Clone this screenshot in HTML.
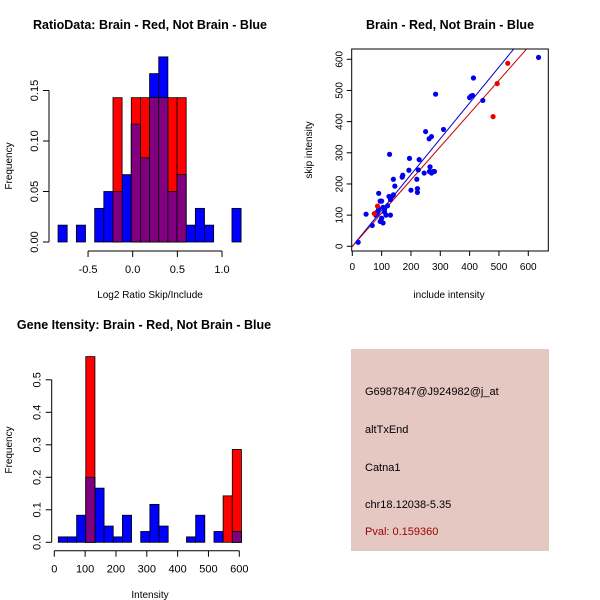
<!DOCTYPE html>
<html><head><meta charset="utf-8"><style>
body{margin:0;background:#fff}
svg{display:block;font-family:"Liberation Sans",sans-serif}
</style></head><body>
<svg id="s" width="600" height="600" xmlns="http://www.w3.org/2000/svg">
<rect width="600" height="600" fill="#fff"/>
<g id="p1"></g>
<g id="p2"></g>
<g id="p3"></g>
<g id="p4">
<rect x="351" y="349" width="198" height="202" fill="#e5c8c2"/>
<text x="365" y="395" font-size="11">G6987847@J924982@j_at</text>
<text x="365" y="433" font-size="11">altTxEnd</text>
<text x="365" y="471" font-size="11">Catna1</text>
<text x="365" y="508" font-size="11">chr18.12038-5.35</text>
<text x="365" y="535" font-size="11" fill="#9b0000">Pval: 0.159360</text>
</g>
</svg>
<script>
// Ratio histogram data
const ratioBreakStart = -0.836, ratioBinWidth = 0.1025;
const ratioBlue = [0.0167,0,0.0167,0,0.0333,0.05,0.05,0.0667,0.1167,0.0833,0.1667,0.1833,0.05,0.0667,0.0167,0.0333,0.0167,0,0,0.0333];
const ratioRed  = [0,0,0,0,0,0,0.1429,0,0.1429,0.1429,0.1429,0.1429,0.1429,0.1429,0,0,0,0,0,0];
const ratioXTicks = [-0.5,0,0.5,1.0];
const ratioXLabels = ["-0.5","0.0","0.5","1.0"];
const ratioYTicks = [0,0.05,0.10,0.15];
const ratioYLabels = ["0.00","0.05","0.10","0.15"];
// Scatter data
const blueInclude = [20,47,68,80,85,90,95,100,90,105,110,100,95,105,115,120,125,130,135,140,130,110,85,127,140,145,170,172,195,193,200,220,222,222,225,228,245,250,262,270,284,265,263,270,275,280,311,400,405,410,413,445,635];
const blueSkip    = [13,103,67,100,110,120,145,145,170,125,110,90,80,75,100,130,160,150,160,165,100,120,105,295,215,193,222,228,282,244,180,215,185,173,245,278,235,368,345,352,488,255,240,235,240,240,375,477,482,484,540,468,606];
const redInclude = [86,75,480,494,530];
const redSkip    = [129,105,416,522,587];
const blueFit = [0,1.15];
const redFit = [0,1.065];
const scXTicks = [0,100,200,300,400,500,600];
const scYTicks = [0,100,200,300,400,500,600];
// Gene intensity histogram data
const geneBreakStart = 13, geneBinWidth = 29.7;
const geneBlue = [0.0167,0.0167,0.0833,0.2,0.1667,0.05,0.0167,0.0833,0,0.0333,0.1167,0.05,0,0,0.0167,0.0833,0,0.0333,0,0.0333];
const geneRed  = [0,0,0,0.5714,0,0,0,0,0,0,0,0,0,0,0,0,0,0,0.1429,0.2857];
const geneXTicks = [0,100,200,300,400,500,600];
const geneYTicks = [0,0.1,0.2,0.3,0.4,0.5];
const geneYLabels = ["0.0","0.1","0.2","0.3","0.4","0.5"];

const NS="http://www.w3.org/2000/svg";
function mk(parent,tag,attrs){const e=document.createElementNS(NS,tag);for(const k in attrs)e.setAttribute(k,attrs[k]);parent.appendChild(e);return e;}
function txt(parent,x,y,s,size,extra){const t=mk(parent,'text',Object.assign({x:x,y:y,'font-size':size,'text-anchor':'middle'},extra||{}));t.textContent=s;return t;}

function hist(g,o){
  const sx=v=>o.x0+(v-o.v0)*o.kx, sy=v=>o.y0-v*o.ky;
  function bar(i,h,col,name){
    if(h<=0)return;
    const a=o.bs+i*o.bw,b=a+o.bw;
    const r=mk(g,'rect',{x:sx(a),y:sy(h),width:sx(b)-sx(a),height:sy(0)-sy(h),fill:col,stroke:'#000','stroke-width':0.8});
    
    
  }
  o.blue.forEach((h,i)=>bar(i,h,'#0000ff','bar-blue'));
  o.red.forEach((h,i)=>bar(i,h,'#ff0000','bar-red'));
  o.blue.forEach((h,i)=>{const m=Math.min(h,o.red[i]);bar(i,m,'#800080','bar-overlap');});
  const yt=o.yt;
  const ya=mk(g,'line',{x1:o.ax,x2:o.ax,y1:sy(yt[0]),y2:sy(yt[yt.length-1]),stroke:'#000'});
  
  yt.forEach((v,i)=>{mk(g,'line',{x1:o.ax,x2:o.ax-6,y1:sy(v),y2:sy(v),stroke:'#000'});
    const t=txt(g,o.ax-11,sy(v),o.yl[i],11,{transform:`rotate(-90 ${o.ax-11} ${sy(v)})`});
    });
  const xt=o.xt;
  const xa=mk(g,'line',{x1:sx(xt[0]),x2:sx(xt[xt.length-1]),y1:o.ay,y2:o.ay,stroke:'#000'});
  
  xt.forEach((v,i)=>{mk(g,'line',{x1:sx(v),x2:sx(v),y1:o.ay,y2:o.ay+6,stroke:'#000'});
    const t=txt(g,sx(v),o.ay+22,o.xl[i],11);
    });
}

const p1=document.getElementById('p1');
hist(p1,{x0:132.7,v0:0,kx:89.3,y0:242,ky:1010,bs:ratioBreakStart,bw:ratioBinWidth,blue:ratioBlue,red:ratioRed,
  xt:ratioXTicks,xl:ratioXLabels,yt:ratioYTicks,yl:ratioYLabels,ax:49,ay:251});
let t=txt(p1,150,29,'RatioData: Brain - Red, Not Brain - Blue',12.5,{'font-weight':'bold'});

t=txt(p1,150,298,'Log2 Ratio Skip/Include',10);

t=txt(p1,12,166,'Frequency',10,{transform:'rotate(-90 12 166)'});


const p3=document.getElementById('p3');
hist(p3,{x0:54.3,v0:0,kx:0.3083,y0:542.3,ky:325,bs:geneBreakStart,bw:geneBinWidth,blue:geneBlue,red:geneRed,
  xt:geneXTicks,xl:geneXTicks.map(String),yt:geneYTicks,yl:geneYLabels,ax:51.7,ay:550.7});
t=txt(p3,144,329,'Gene Itensity: Brain - Red, Not Brain - Blue',12.5,{'font-weight':'bold'});

t=txt(p3,150,598,'Intensity',10);

t=txt(p3,12,450,'Frequency',10,{transform:'rotate(-90 12 450)'});


const p2=document.getElementById('p2');
const bx0=351.7,bx1=548.3,by0=49,by1=251;
const X=v=>352.3+v*0.2933, Y=v=>246.3-v*0.3117;
const cp=mk(p2,'clipPath',{id:'cp'});mk(cp,'rect',{x:bx0,y:by0,width:bx1-bx0,height:by1-by0});
function fit(f,col,name){const l=mk(p2,'line',{x1:X(-10),y1:Y(f[0]+f[1]*-10),x2:X(700),y2:Y(f[0]+f[1]*700),stroke:col,'stroke-width':1,'clip-path':'url(#cp)'});
  }
fit(blueFit,'#0000cc','blue-fit-line');
fit(redFit,'#cc0000','red-fit-line');
blueInclude.forEach((v,i)=>{const c=mk(p2,'circle',{cx:X(v),cy:Y(blueSkip[i]),r:2.6,fill:'#0000ee'});
  });
redInclude.forEach((v,i)=>{const c=mk(p2,'circle',{cx:X(v),cy:Y(redSkip[i]),r:2.6,fill:'#ee0000'});
  });
const box=mk(p2,'rect',{x:bx0,y:by0,width:bx1-bx0,height:by1-by0,fill:'none',stroke:'#000'});

scXTicks.forEach(v=>{mk(p2,'line',{x1:X(v),x2:X(v),y1:by1,y2:by1+5,stroke:'#000'});
  const t=txt(p2,X(v),by1+19,String(v),10);});
scYTicks.forEach(v=>{mk(p2,'line',{x1:bx0,x2:bx0-5,y1:Y(v),y2:Y(v),stroke:'#000'});
  const t=txt(p2,bx0-9,Y(v),String(v),10,{transform:`rotate(-90 ${bx0-9} ${Y(v)})`});});
t=txt(p2,450,29,'Brain - Red, Not Brain - Blue',12.5,{'font-weight':'bold'});

t=txt(p2,449,298,'include intensity',10);

t=txt(p2,312,150,'skip intensity',10,{transform:'rotate(-90 312 150)'});

</script>
</body></html>
